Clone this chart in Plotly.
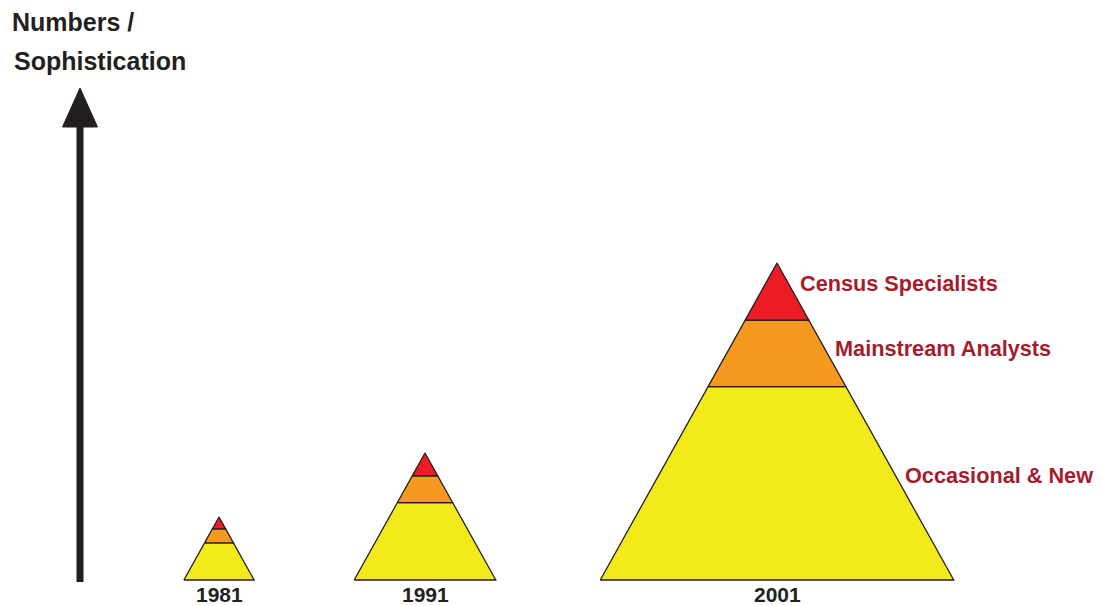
import plotly.graph_objects as go

# ---- data ----
years = ["1981", "1991", "2001"]
pyramid_size = [63, 127, 317]            # relative size (height units)
share_specialists = [0.19, 0.18, 0.18]   # top layer share of height
share_analysts = [0.22, 0.21, 0.21]      # middle layer share of height
layer_names = ["Occasional & New", "Mainstream Analysts", "Census Specialists"]

# ---- layout constants ----
centers = [219, 425, 777]
width_ratio = 1.115
colors = {"Occasional & New": "#F2EA1A", "Mainstream Analysts": "#F6991E",
          "Census Specialists": "#ED1C24"}
outline = "#231F20"
label_red = "#A51D2D"
FONT = "Liberation Sans, Arial, sans-serif"

fig = go.Figure()


def half_width(h, total):
    return (total - h) * width_ratio / 2.0


for cx, H, s_sp, s_an in zip(centers, pyramid_size, share_specialists, share_analysts):
    b1 = H * (1 - s_sp - s_an)   # yellow top
    b2 = H * (1 - s_sp)          # orange top
    layers = [("Occasional & New", 0, b1), ("Mainstream Analysts", b1, b2),
              ("Census Specialists", b2, H)]
    for name, y0, y1 in layers:
        w0 = half_width(y0, H)
        w1 = half_width(y1, H)
        xs = [cx - w0, cx + w0, cx + w1, cx - w1, cx - w0]
        ys = [y0, y0, y1, y1, y0]
        fig.add_trace(go.Scatter(x=xs, y=ys, mode="lines", fill="toself",
                                 fillcolor=colors[name],
                                 line=dict(color=outline, width=1.3),
                                 hoverinfo="skip", showlegend=False))

# arrow (axis of Numbers / Sophistication)
arrow_x = 80
fig.add_trace(go.Scatter(x=[arrow_x, arrow_x], y=[-2, 455], mode="lines",
                         line=dict(color=outline, width=7),
                         hoverinfo="skip", showlegend=False))
fig.add_trace(go.Scatter(x=[arrow_x - 17.5, arrow_x + 17.5, arrow_x, arrow_x - 17.5],
                         y=[453, 453, 492, 453], mode="lines", fill="toself",
                         fillcolor=outline, line=dict(color=outline, width=1),
                         hoverinfo="skip", showlegend=False))

annotations = []
for cx, yr in zip(centers, years):
    annotations.append(dict(x=cx, y=-14, text=yr, showarrow=False, xanchor="center",
                            yanchor="middle",
                            font=dict(family=FONT, size=21, color=outline, weight="bold")))

# layer labels beside the 2001 pyramid
label_pos = {"Census Specialists": (798, 297), "Mainstream Analysts": (833, 232),
             "Occasional & New": (903, 105)}
for name in layer_names:
    x, y = label_pos[name]
    annotations.append(dict(x=x, y=y, text=name, showarrow=False, xanchor="left",
                            yanchor="middle",
                            font=dict(family=FONT, size=21.7, color=label_red, weight="bold")))

annotations.append(dict(x=10, y=558, text="Numbers /", showarrow=False, xanchor="left",
                        yanchor="middle",
                        font=dict(family=FONT, size=25, color=outline, weight="bold")))
annotations.append(dict(x=12, y=519, text="Sophistication", showarrow=False, xanchor="left",
                        yanchor="middle",
                        font=dict(family=FONT, size=25, color=outline, weight="bold")))

fig.update_layout(
    width=1101, height=606,
    margin=dict(l=0, r=0, t=0, b=0),
    paper_bgcolor="white", plot_bgcolor="white",
    xaxis=dict(range=[0, 1101], visible=False, fixedrange=True),
    yaxis=dict(range=[-26, 580], visible=False, fixedrange=True),
    annotations=annotations,
    showlegend=False,
)

fig.write_html("out.html")
